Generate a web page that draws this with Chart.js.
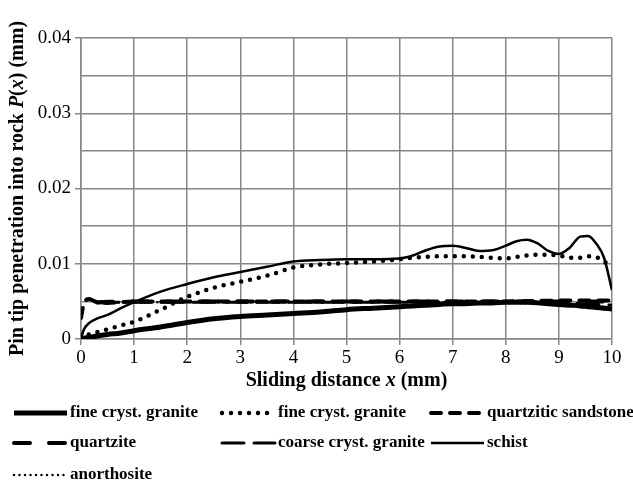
<!DOCTYPE html>
<html>
<head>
<meta charset="utf-8">
<script src="https://cdn.jsdelivr.net/npm/chart.js@4/dist/chart.umd.min.js"></script>
<style>
  body { margin: 0; background: #fff; }
  #wrap { width: 633px; height: 482px; position: relative; }
</style>
</head>
<body>
<div id="wrap"><canvas id="chart1"></canvas></div>
<script>
// sliding distance x (mm), readings for the curved series
const xs = [0, 0.05, 0.15, 0.3, 0.5, 0.75, 1, 1.5, 2, 2.5, 3, 3.5, 4, 4.5, 5, 5.5, 6, 6.25, 6.5, 6.75,
  7, 7.25, 7.5, 7.75, 8, 8.2, 8.4, 8.6, 8.8, 9, 9.2, 9.4, 9.55, 9.7, 9.85, 10];

const fineGraniteA = [0, 0.0001, 0.0002, 0.0004, 0.0006, 0.0008, 0.0011, 0.0016, 0.0022, 0.0027, 0.003, 0.0032,
  0.0034, 0.0036, 0.0039, 0.0041, 0.0043, 0.0044, 0.0045, 0.0046, 0.0047, 0.0047, 0.0048, 0.0048, 0.0049,
  0.0049, 0.0049, 0.0048, 0.0047, 0.0046, 0.0045, 0.0044, 0.0043, 0.0042, 0.0041, 0.004];

const fineGraniteB = [0, 0.0003, 0.0006, 0.0009, 0.0013, 0.0018, 0.0023, 0.0039, 0.0056, 0.0068, 0.0076, 0.0084,
  0.0095, 0.0099, 0.0101, 0.0103, 0.0106, 0.0108, 0.0109, 0.011, 0.011, 0.011, 0.0109, 0.0108, 0.0107,
  0.0109, 0.0111, 0.0112, 0.0112, 0.0111, 0.0108, 0.0108, 0.011, 0.0109, 0.0103, 0.0096];

const schist = [0, 0.0012, 0.0021, 0.0027, 0.0032, 0.0041, 0.0049, 0.0063, 0.0073, 0.0082, 0.0089, 0.0096,
  0.0103, 0.0105, 0.0106, 0.0106, 0.0107, 0.0111, 0.0118, 0.0123, 0.0124, 0.0121, 0.0117, 0.0118, 0.0124,
  0.013, 0.0132, 0.0127, 0.0117, 0.0113, 0.0121, 0.0136, 0.0137, 0.0127, 0.0108, 0.0065];

// the near-flat series around 0.005
const sandX = [0, 0.05, 0.15, 0.3, 0.5, 1, 2, 3, 4, 5, 6, 7, 8, 9, 10];
const sandstone = [0.0028, 0.0046, 0.0053, 0.0049, 0.0048, 0.005, 0.005, 0.005, 0.005, 0.005, 0.005, 0.005, 0.005, 0.0051, 0.0051];

const flatX = [0.3, 1, 2, 3, 4, 5, 6, 7, 8, 9, 10];
const quartzite = [0.0049, 0.005, 0.005, 0.005, 0.005, 0.005, 0.005, 0.005, 0.005, 0.005, 0.005];
const coarseGranite = [0.0048, 0.0049, 0.0049, 0.0049, 0.0049, 0.0049, 0.0049, 0.0049, 0.0049, 0.0048, 0.0045];
const anorthosite = [0.0049, 0.0049, 0.0049, 0.0049, 0.0049, 0.0049, 0.0049, 0.0049, 0.0048, 0.0046, 0.0042];

const yTicks = [0, 0.01, 0.02, 0.03, 0.04];

function pts(x, y) {
  return x.map((v, i) => ({ x: v, y: y[i] }));
}

const SERIF = "'Liberation Serif', 'Times New Roman', serif";
const GRID = '#868686';

function line(label, x, y, width, dash, cap) {
  return {
    label: label,
    data: pts(x, y),
    borderColor: '#000',
    backgroundColor: '#000',
    borderWidth: width,
    borderDash: dash,
    borderCapStyle: cap,
    pointRadius: 0,
    fill: false,
    cubicInterpolationMode: 'monotone'
  };
}

const datasets = [
  line('fine cryst. granite', xs, fineGraniteA, 5, [], 'butt'),
  line('fine cryst. granite', xs, fineGraniteB, 4.5, [0, 9], 'round'),
  line('quartzitic sandstone', sandX, sandstone, 4, [10, 9], 'round'),
  line('quartzite', flatX, quartzite, 4, [16, 19], 'round'),
  line('coarse cryst. granite', flatX, coarseGranite, 3, [22, 10], 'round'),
  line('schist', xs, schist, 2.5, [], 'butt'),
  line('anorthosite', flatX, anorthosite, 2.5, [0, 5.5], 'round')
];

function richText(ctx, parts, cx, cy) {
  let total = 0;
  parts.forEach(p => { ctx.font = p[1]; total += ctx.measureText(p[0]).width; });
  let x = cx - total / 2;
  ctx.textAlign = 'left';
  ctx.textBaseline = 'middle';
  parts.forEach(p => { ctx.font = p[1]; ctx.fillText(p[0], x, cy); x += ctx.measureText(p[0]).width; });
}

const extras = {
  id: 'extras',
  afterDraw(chart) {
    const ctx = chart.ctx;
    const a = chart.chartArea;
    const b = 'bold 20px ' + SERIF, bi = 'italic bold 20px ' + SERIF;
    ctx.save();
    ctx.fillStyle = '#000';
    richText(ctx, [['Sliding distance ', b], ['x', bi], [' (mm)', b]], (a.left + a.right) / 2, 381);
    ctx.translate(18, (a.top + a.bottom) / 2);
    ctx.rotate(-Math.PI / 2);
    richText(ctx, [['Pin tip penetration into rock ', b], ['P', bi], ['(', b], ['x', bi], [') (mm)', b]], 0, 0);
    ctx.restore();

    // legend in a 3-column grid
    const cols = [12, 220, 429], rows = [413, 443, 475];
    ctx.save();
    chart.data.datasets.forEach((ds, i) => {
      const x0 = cols[i % 3], y0 = rows[Math.floor(i / 3)];
      ctx.strokeStyle = ds.borderColor;
      ctx.lineWidth = ds.borderWidth;
      ctx.lineCap = ds.borderCapStyle;
      ctx.setLineDash(ds.borderDash);
      ctx.beginPath();
      ctx.moveTo(x0 + 2, y0);
      ctx.lineTo(x0 + 55, y0);
      ctx.stroke();
      ctx.setLineDash([]);
      ctx.fillStyle = '#000';
      ctx.font = 'bold 17px ' + SERIF;
      ctx.textAlign = 'left';
      ctx.textBaseline = 'middle';
      ctx.fillText(ds.label, x0 + 58, y0);
    });
    ctx.restore();
  }
};

new Chart(document.getElementById('chart1').getContext('2d'), {
  type: 'line',
  data: { datasets: datasets },
  options: {
    responsive: true,
    maintainAspectRatio: false,
    animation: false,
    layout: { padding: { left: 0, right: 21, top: 38, bottom: 113 } },
    plugins: { legend: { display: false }, tooltip: { enabled: false } },
    scales: {
      x: {
        type: 'linear',
        min: 0,
        max: 10,
        afterFit: s => { s.height = 30; },
        ticks: { stepSize: 1, color: '#000', padding: 2, autoSkip: false, font: { family: SERIF, size: 19 } },
        grid: { color: GRID, lineWidth: 1.5, tickLength: 6, tickColor: GRID },
        border: { color: GRID, width: 1.5 }
      },
      y: {
        min: 0,
        max: 0.04,
        afterFit: s => { s.width = 81; },
        afterBuildTicks: s => {
          const t = [];
          for (let k = 0; k <= 8; k++) t.push({ value: k * 0.005 });
          s.ticks = t;
        },
        ticks: {
          color: '#000',
          padding: 4,
          autoSkip: false,
          font: { family: SERIF, size: 19 },
          callback: v => {
            const hit = yTicks.find(t => Math.abs(t - v) < 1e-6);
            return hit === undefined ? '' : (hit === 0 ? '0' : hit.toFixed(2));
          }
        },
        grid: {
          color: GRID,
          lineWidth: 1.5,
          tickLength: 6,
          tickColor: c => yTicks.some(t => Math.abs(t - c.tick.value) < 1e-6) ? GRID : 'rgba(0,0,0,0)'
        },
        border: { color: GRID, width: 1.5 }
      }
    }
  },
  plugins: [extras]
});
</script>
</body>
</html>
